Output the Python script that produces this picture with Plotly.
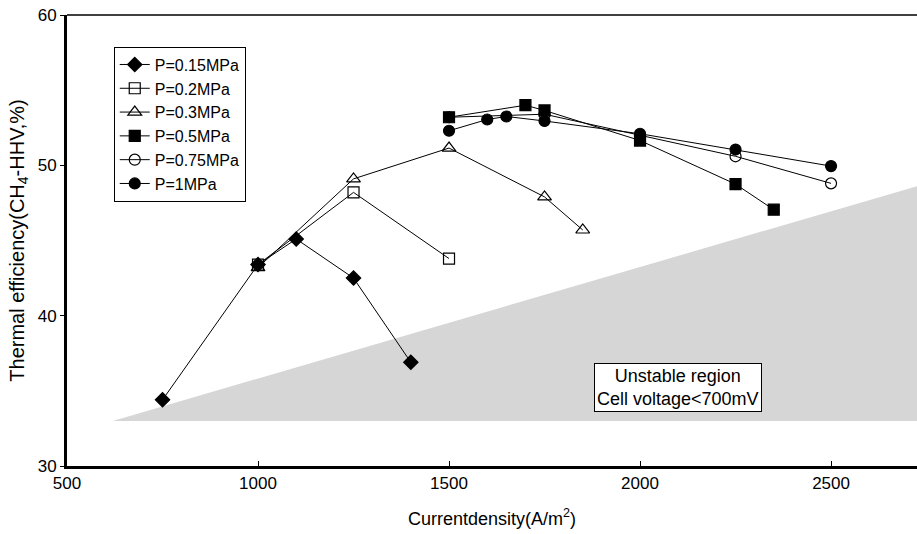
import plotly.graph_objects as go

# Data
x_015 = [750, 1000, 1100, 1250, 1400]
y_015 = [34.4, 43.4, 45.1, 42.5, 36.9]

x_02 = [1000, 1250, 1500]
y_02 = [43.4, 48.2, 43.8]

x_03 = [1000, 1250, 1500, 1750, 1850]
y_03 = [43.2, 49.1, 51.15, 47.9, 45.7]

x_05 = [1500, 1700, 1750, 2000, 2250, 2350]
y_05 = [53.2, 54.0, 53.65, 51.65, 48.75, 47.05]

x_075 = [1500, 1750, 2000, 2250, 2500]
y_075 = [53.2, 53.4, 52.0, 50.6, 48.8]

x_1 = [1500, 1600, 1650, 1750, 2000, 2250, 2500]
y_1 = [52.3, 53.05, 53.25, 52.95, 52.1, 51.05, 49.95]

region_x = [620, 2730, 2730, 620]
region_y = [33.0, 48.65, 33.0, 33.0]

series = [
    ("P=0.15MPa", x_015, y_015, "diamond", 11, "black"),
    ("P=0.2MPa", x_02, y_02, "square-open", 11, "black"),
    ("P=0.3MPa", x_03, y_03, "triangle-up-open", 12, "black"),
    ("P=0.5MPa", x_05, y_05, "square", 11, "black"),
    ("P=0.75MPa", x_075, y_075, "circle-open", 11, "black"),
    ("P=1MPa", x_1, y_1, "circle", 11, "black"),
]

FONT = "Liberation Sans, Arial"

fig = go.Figure()
fig.add_trace(go.Scatter(x=region_x, y=region_y, fill="toself", mode="none",
                         fillcolor="#d6d6d6", showlegend=False, hoverinfo="skip"))

for name, xs, ys, sym, sz, col in series:
    fig.add_trace(go.Scatter(
        x=xs, y=ys, name=name, mode="lines+markers",
        line=dict(color="black", width=1),
        marker=dict(symbol=sym, size=sz, color=col,
                    line=dict(color="black", width=1.2)),
    ))

fig.add_annotation(x=2100, y=35.25, xref="x", yref="y",
                   text="Unstable region<br>Cell voltage<700mV",
                   showarrow=False, bgcolor="white", bordercolor="black",
                   borderwidth=1, borderpad=2,
                   font=dict(family=FONT, size=18, color="black"))

# top border line (thin)
fig.add_shape(type="line", xref="paper", yref="paper", x0=0, x1=1, y0=1, y1=1,
              line=dict(color="black", width=1.5))

fig.update_layout(
    width=917, height=534,
    margin=dict(l=67, r=0, t=15, b=68),
    paper_bgcolor="white", plot_bgcolor="white",
    font=dict(family=FONT, size=17, color="black"),
    legend=dict(x=0.055, y=0.93, xanchor="left", yanchor="top",
                bordercolor="black", borderwidth=1, bgcolor="white",
                font=dict(size=16), itemwidth=30, tracegroupgap=0),
    xaxis=dict(range=[500, 2725], tickvals=[500, 1000, 1500, 2000, 2500],
               showgrid=False, zeroline=False, showline=True, linecolor="black",
               linewidth=3, ticks="inside", ticklen=5, tickcolor="black",
               tickfont=dict(size=17), automargin=False,
               title=dict(text="Currentdensity(A/m<sup>2</sup>)", font=dict(size=18),
                          standoff=20)),
    yaxis=dict(range=[30, 60], tickvals=[30, 40, 50, 60],
               showgrid=False, zeroline=False, showline=True, linecolor="black",
               linewidth=3, ticks="outside", ticklen=4, tickcolor="black",
               tickfont=dict(size=17), automargin=False,
               title=dict(text="Thermal efficiency(CH<sub>4</sub>-HHV,%)",
                          font=dict(size=20), standoff=8)),
)

fig.write_html("out.html")
